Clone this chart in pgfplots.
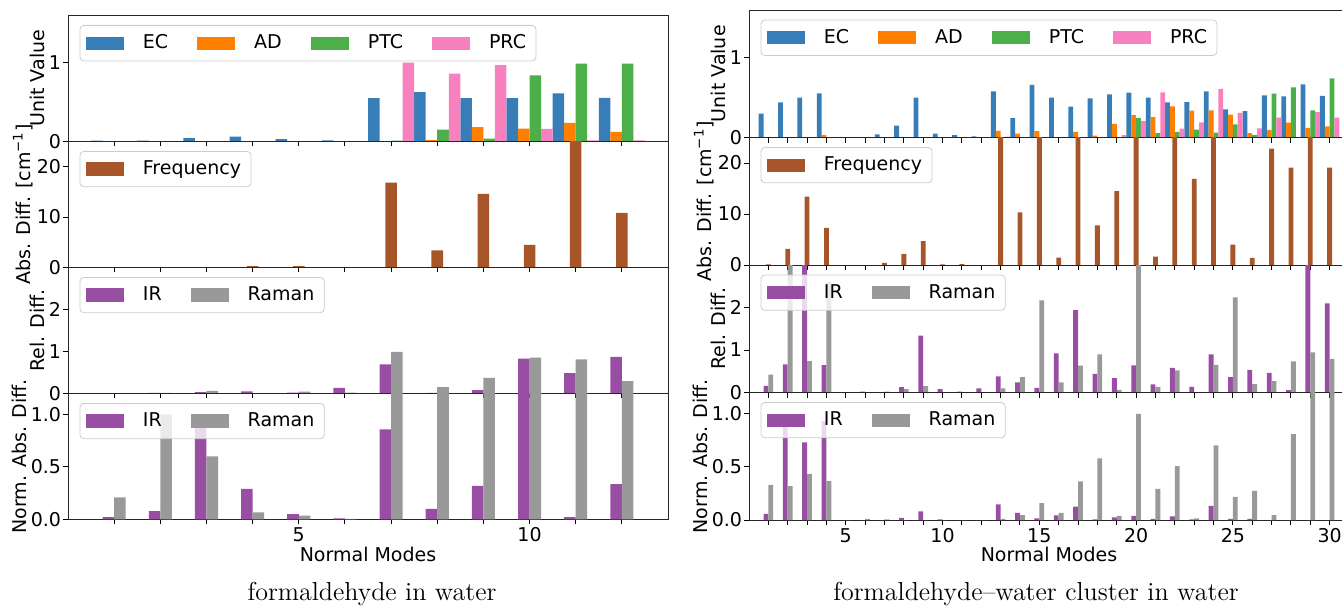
\documentclass[border=0pt]{standalone}
\usepackage{fontspec}
\usepackage{pgfplots}
\usepackage{pgfplotstable}
\pgfplotsset{compat=1.18}
\newfontfamily\dejavu{DejaVu Sans}
\definecolor{ecc}{HTML}{377EB8}
\definecolor{adc}{HTML}{FF7F00}
\definecolor{ptcc}{HTML}{4DAF4A}
\definecolor{prcc}{HTML}{F781BF}
\definecolor{frc}{HTML}{A65628}
\definecolor{irc}{HTML}{984EA3}
\definecolor{rac}{HTML}{999999}

\pgfplotstableread{
x ec ad ptc prc freq relir relra normir normra
1 0.010 0 0 0 0 0 0 0.022 0.21
2 0.010 0 0 0 0.05 0.01 0.01 0.08 1.0
3 0.043 0 0 0 0.05 0.03 0.06 0.905 0.6
4 0.060 0 0 0 0.26 0.05 0.005 0.29 0.067
5 0.030 0 0 0 0.26 0.02 0.04 0.05 0.035
6 0.013 0 0 0 0 0.13 0.02 0.01 0.006
7 0.550 0.003 0.01 1.0 16.8 0.69 0.99 0.857 2
8 0.627 0.017 0.15 0.86 3.36 0.015 0.15 0.1 2
9 0.550 0.18 0.034 0.97 14.6 0.08 0.37 0.32 2
10 0.550 0.163 0.84 0.16 4.47 0.83 0.85 2 2
11 0.610 0.236 0.987 0.013 30 0.48 0.81 0.022 2
12 0.554 0.12 0.987 0.013 10.8 0.87 0.29 0.336 2
}\lefttab

\pgfplotstableread{
x ec ad ptc prc freq relir relra normir normra
1 0.30 0 0 0 0.1 0.157 0.42 0.057 0.33
2 0.44 0 0 0 3.16 0.66 4 0.9 0.32
3 0.50 0 0 0 13.4 4 0.74 0.73 0.435
4 0.555 0.03 0 0 7.3 0.645 2.6 0.93 0.366
5 0 0 0 0 0 0.01 0 0 0
6 0 0 0 0 0 0.02 0 0 0.01
7 0.04 0 0 0 0.4 0.01 0.02 0 0.005
8 0.15 0 0 0 2.2 0.126 0.08 0.02 0
9 0.50 0 0 0 4.67 1.34 0.15 0.082 0
10 0.05 0 0 0 0.1 0.08 0.01 0.005 0
11 0.03 0 0 0 0.15 0.02 0 0 0
12 0.013 0 0 0 0 0.1 0 0 0
13 0.58 0.084 0 0.01 30 0.38 0.1 0.148 0.01
14 0.244 0.05 0 0 10.3 0.236 0.36 0.066 0.047
15 0.66 0.08 0 0 30 0.11 2.17 0.015 0.16
16 0.50 0 0 0 1.45 0.92 0.236 0.044 0.066
17 0.387 0.07 0 0 30 1.94 0.63 0.126 0.363
18 0.49 0.025 0 0 7.76 0.44 0.9 0.005 0.58
19 0.54 0.17 0 0.03 14.5 0.34 0.06 0.025 0.04
20 0.563 0.28 0.244 0.21 30 0.64 4 0.04 1.0
21 0.50 0.256 0.055 0.567 1.64 0.19 0.13 0.01 0.293
22 0.44 0.39 0.07 0.11 30 0.58 0.52 0.035 0.508
23 0.443 0.337 0.10 0.19 16.9 0.13 0.01 0.005 0.015
24 0.58 0.34 0.06 0.61 30 0.9 0.65 0.132 0.703
25 0.354 0.287 0.165 0.31 4.0 0.36 2.24 0.01 0.218
26 0.33 0.055 0.03 0.114 1.4 0.535 0.2 0.01 0.274
27 0.53 0.097 0.55 0.25 22.8 0.46 0.27 0 0.047
28 0.515 0.186 0.63 0 19.1 0.055 0.73 0 0.808
29 0.667 0.122 0.34 0.32 30 4 0.945 0 2
30 0.523 0.14 0.743 0.25 19.1 2.1 0.79 0 2
}\righttab

\newcommand{\cf}{\dejavu\fontsize{9.5}{11}\selectfont}
\newcommand{\gap}{\rule{12.5pt}{0pt}}

\pgfplotsset{
  base/.style={scale only axis, width=300pt, anchor=south west,
    tick align=outside, xtick pos=bottom, ytick pos=left,
    major tick length=2.5pt,
    every tick/.style={black, line width=0.5pt},
    axis line style={black!85, line width=0.5pt},
    ticklabel style={font=\cf},
    yticklabel style={inner xsep=0.8pt},
    xticklabel style={inner ysep=1.5pt},
    label style={font=\cf},
    ylabel style={inner sep=1pt},
    xlabel style={inner sep=0.5pt},
    /pgf/number format/assume math mode=true,
    ymin=0,
    legend style={at={(0,1)}, anchor=north west, xshift=5.75pt, yshift=-4.8pt,
      font=\cf,
      fill=white, fill opacity=0.8, draw opacity=1, text opacity=1,
      draw=black!20, rounded corners=2pt, inner xsep=3pt, inner ysep=2.6pt,
      /tikz/every odd column/.append style={column sep=7.5pt}},
    legend cell align=left,
  },
  leftax/.style={base, xmin=0, xmax=13, xtick={1,...,12}, height=63pt},
  rightax/.style={base, xmin=0, xmax=31, xtick={1,...,30}, height=63.75pt},
  mybar/.style 2 args={ybar, bar width=0.25, bar shift=#2, fill=#1, draw=none,
    legend image code/.code={\fill[#1, fill opacity=1, sharp corners] (0pt,-3.3pt) rectangle (19pt,3.3pt);}},
}

\begin{document}
\begin{tikzpicture}
% ---------------- LEFT ----------------
\begin{axis}[leftax, at={(34pt,232.8pt)}, ymax=1.6, ytick={0,1}, yticklabels={0,1},
  xticklabels={}, ylabel={Unit Value}, legend columns=4]
\addplot[mybar={ecc}{-0.375}] table[x=x,y=ec]{\lefttab}; \addlegendentry{EC\gap}
\addplot[mybar={adc}{-0.125}] table[x=x,y=ad]{\lefttab}; \addlegendentry{AD\gap}
\addplot[mybar={ptcc}{0.125}] table[x=x,y=ptc]{\lefttab}; \addlegendentry{PTC\gap}
\addplot[mybar={prcc}{0.375}] table[x=x,y=prc]{\lefttab}; \addlegendentry{PRC}
\end{axis}
\begin{axis}[leftax, at={(34pt,169.8pt)}, ymax=25, ytick={0,10,20}, yticklabels={0,10,20},
  xticklabels={}, ylabel={Abs. Diff. [cm\textsuperscript{−1}]}]
\addplot[mybar={frc}{0}] table[x=x,y=freq]{\lefttab}; \addlegendentry{Frequency}
\end{axis}
\begin{axis}[leftax, at={(34pt,106.8pt)}, ymax=3, ytick={0,1,2}, yticklabels={0,1,2},
  xticklabels={}, ylabel={Rel. Diff.}, legend columns=2]
\addplot[mybar={irc}{-0.125}] table[x=x,y=relir]{\lefttab}; \addlegendentry{IR\gap}
\addplot[mybar={rac}{0.125}] table[x=x,y=relra]{\lefttab}; \addlegendentry{Raman}
\end{axis}
\begin{axis}[leftax, at={(34pt,43.8pt)}, ymax=1.2, ytick={0,0.5,1}, yticklabels={0.0,0.5,1.0},
  xticklabels={,,,,5,,,,,10,,}, ylabel={Norm. Abs. Diff.}, xlabel={Normal Modes}, legend columns=2]
\addplot[mybar={irc}{-0.125}] table[x=x,y=normir]{\lefttab}; \addlegendentry{IR\gap}
\addplot[mybar={rac}{0.125}] table[x=x,y=normra]{\lefttab}; \addlegendentry{Raman}
\end{axis}
% ---------------- RIGHT ----------------
\begin{axis}[rightax, at={(374.5pt,234.75pt)}, ymax=1.6, ytick={0,1}, yticklabels={0,1},
  xticklabels={}, ylabel={Unit Value}, legend columns=4]
\addplot[mybar={ecc}{-0.375}] table[x=x,y=ec]{\righttab}; \addlegendentry{EC\gap}
\addplot[mybar={adc}{-0.125}] table[x=x,y=ad]{\righttab}; \addlegendentry{AD\gap}
\addplot[mybar={ptcc}{0.125}] table[x=x,y=ptc]{\righttab}; \addlegendentry{PTC\gap}
\addplot[mybar={prcc}{0.375}] table[x=x,y=prc]{\righttab}; \addlegendentry{PRC}
\end{axis}
\begin{axis}[rightax, at={(374.5pt,171pt)}, ymax=25, ytick={0,10,20}, yticklabels={0,10,20},
  xticklabels={}, ylabel={Abs. Diff. [cm\textsuperscript{−1}]}]
\addplot[mybar={frc}{0}] table[x=x,y=freq]{\righttab}; \addlegendentry{Frequency}
\end{axis}
\begin{axis}[rightax, at={(374.5pt,107.25pt)}, ymax=3, ytick={0,1,2}, yticklabels={0,1,2},
  xticklabels={}, ylabel={Rel. Diff.}, legend columns=2]
\addplot[mybar={irc}{-0.125}] table[x=x,y=relir]{\righttab}; \addlegendentry{IR\gap}
\addplot[mybar={rac}{0.125}] table[x=x,y=relra]{\righttab}; \addlegendentry{Raman}
\end{axis}
\begin{axis}[rightax, at={(374.5pt,43.5pt)}, ymax=1.2, ytick={0,0.5,1}, yticklabels={0.0,0.5,1.0},
  xticklabels={,,,,5,,,,,10,,,,,15,,,,,20,,,,,25,,,,,30}, ylabel={Norm. Abs. Diff.}, xlabel={Normal Modes}, legend columns=2]
\addplot[mybar={irc}{-0.125}] table[x=x,y=normir]{\righttab}; \addlegendentry{IR\gap}
\addplot[mybar={rac}{0.125}] table[x=x,y=normra]{\righttab}; \addlegendentry{Raman}
\end{axis}
\node[anchor=base, font=\fontsize{13}{15}\selectfont] at (186pt,3.5pt) {formaldehyde in water};
\node[anchor=base, font=\fontsize{13}{15}\selectfont] at (518pt,3.5pt) {formaldehyde–water cluster in water};
\pgfresetboundingbox
\useasboundingbox (0,0) rectangle (671pt,303.5pt);
\end{tikzpicture}
\end{document}
